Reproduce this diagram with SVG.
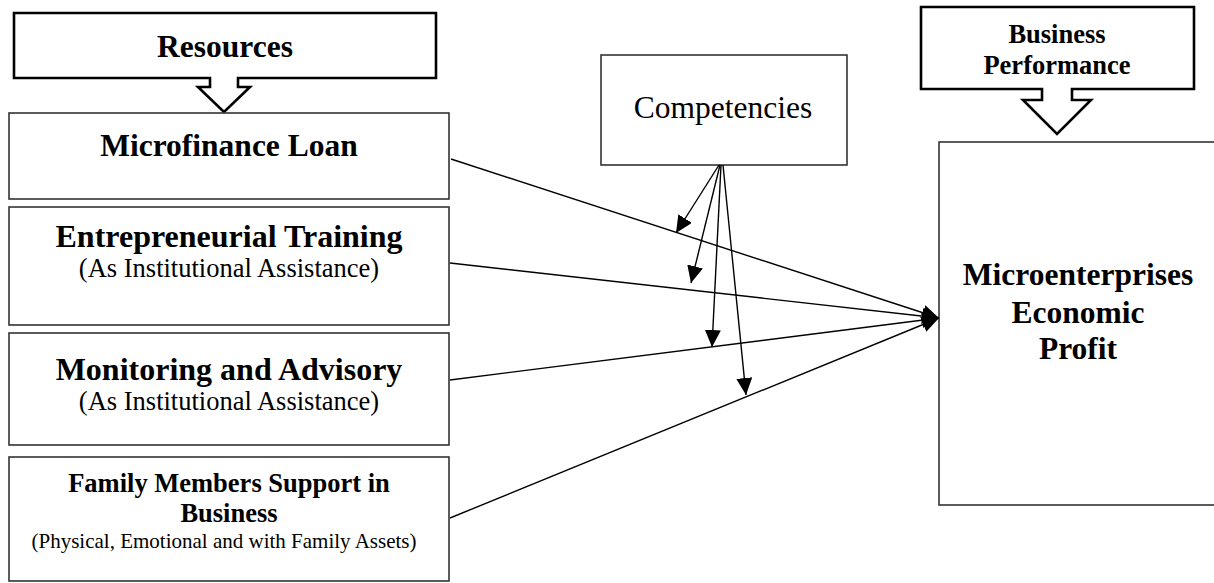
<svg xmlns="http://www.w3.org/2000/svg" width="1214" height="583" viewBox="0 0 1214 583">
<defs>
<style>
.box{fill:#fff;stroke:#333;stroke-width:1.6}
.callout{fill:#fff;stroke:#000;stroke-width:2.6;stroke-linejoin:miter}
.b{font-family:"Liberation Serif","Times New Roman",serif;font-weight:bold;fill:#000;text-anchor:middle}
.r{font-family:"Liberation Serif","Times New Roman",serif;fill:#000;text-anchor:middle}
.conn{stroke:#000;stroke-width:1.4;fill:none}
</style>
<marker id="ah" markerUnits="userSpaceOnUse" markerWidth="18" markerHeight="18" refX="17" refY="8" orient="auto" viewBox="0 0 18 18">
<path d="M0,0 L17,8 L0,16 Z" fill="#000"/>
</marker>
</defs>
<rect width="1214" height="583" fill="#fff"/>

<g id="resources">
<path class="callout" d="M14,13 H436 V78 H238 V87 H250 L224,112 L198,87 H210 V78 H14 Z"/>
<text class="b" x="225" y="57" font-size="31.5">Resources</text>
</g>

<g id="business-performance">
<path class="callout" d="M921,7 H1194 V89 H1072 V100 H1091 L1057,134 L1023,100 H1042 V89 H921 Z"/>
<text class="b" x="1057" y="43" font-size="26.5">Business</text>
<text class="b" x="1057" y="74" font-size="26.5">Performance</text>
</g>

<g id="microfinance-loan">
<rect class="box" x="9" y="113" width="440" height="86"/>
<text class="b" x="229" y="156" font-size="31.5">Microfinance Loan</text>
</g>

<g id="entrepreneurial-training">
<rect class="box" x="9" y="207" width="440" height="118"/>
<text class="b" x="229" y="247" font-size="32">Entrepreneurial Training</text>
<text class="r" x="229" y="277" font-size="26.5">(As Institutional Assistance)</text>
</g>

<g id="monitoring-advisory">
<rect class="box" x="9" y="333" width="440" height="112"/>
<text class="b" x="229" y="380" font-size="32">Monitoring and Advisory</text>
<text class="r" x="229" y="410" font-size="26.5">(As Institutional Assistance)</text>
</g>

<g id="family-support">
<rect class="box" x="9" y="457" width="440" height="124"/>
<text class="b" x="229" y="492" font-size="26.5">Family Members Support in</text>
<text class="b" x="229" y="522" font-size="26.5">Business</text>
<text class="r" x="224" y="548" font-size="21">(Physical, Emotional and with Family Assets)</text>
</g>

<g id="competencies">
<rect class="box" x="601" y="55" width="246" height="110"/>
<text class="r" x="723" y="118" font-size="31.5">Competencies</text>
</g>

<g id="economic-profit">
<rect class="box" x="939" y="142" width="280" height="363"/>
<text class="b" x="1078" y="285" font-size="31.5">Microenterprises</text>
<text class="b" x="1078" y="323" font-size="31.5">Economic</text>
<text class="b" x="1078" y="359" font-size="31.5">Profit</text>
</g>

<g id="connectors">
<line class="conn" x1="451" y1="159" x2="939" y2="318" marker-end="url(#ah)"/>
<line class="conn" x1="450" y1="263" x2="939" y2="318" marker-end="url(#ah)"/>
<line class="conn" x1="450" y1="380" x2="939" y2="318" marker-end="url(#ah)"/>
<line class="conn" x1="450" y1="518" x2="939" y2="318" marker-end="url(#ah)"/>
<line class="conn" x1="719" y1="165" x2="676" y2="233" marker-end="url(#ah)"/>
<line class="conn" x1="720" y1="165" x2="691" y2="283" marker-end="url(#ah)"/>
<line class="conn" x1="721" y1="165" x2="712" y2="347" marker-end="url(#ah)"/>
<line class="conn" x1="723" y1="165" x2="746" y2="395" marker-end="url(#ah)"/>
</g>
</svg>
